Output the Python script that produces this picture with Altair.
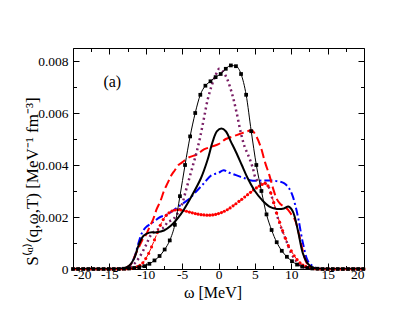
import altair as alt
import pandas as pd

# ---------------- data ----------------
# black thin line with square markers
SQ_X = [-20.0, -19.3, -18.6, -17.9, -17.2, -16.5, -15.8, -15.1, -14.4, -13.7,
        -13.0, -12.3, -11.6, -10.9, -10.2, -9.5, -8.8, -8.1, -7.4, -6.7,
        -6.0, -5.3, -4.6, -3.9, -3.2, -2.5, -1.8, -1.1, -0.4, 0.3,
        1.0, 1.7, 2.4, 3.1, 3.8, 4.5, 5.2, 5.9, 6.6, 7.3,
        8.0, 8.7, 9.4, 10.1, 10.8, 11.5, 12.2, 12.9, 13.6, 14.3,
        15.0, 15.7, 16.4, 17.1, 17.8, 18.5, 19.2, 19.9]
SQ_Y = [0, 0, 0, 0, 0, 0, 0, 0, 0, 0,
        0.00001, 0.00002, 0.00004, 0.00007, 0.00011, 0.0002, 0.00033, 0.0005, 0.00075, 0.0011,
        0.0017, 0.0028, 0.0040, 0.0051, 0.0060, 0.0067, 0.00705, 0.00722, 0.00738, 0.0075,
        0.0077, 0.00783, 0.0078, 0.0075, 0.0067, 0.0053, 0.0040, 0.0030, 0.0021, 0.0015,
        0.00103, 0.0007, 0.00047, 0.0003, 0.00017, 0.00009, 0.00004, 0.00002, 0.00001, 0,
        0, 0, 0, 0, 0, 0, 0, 0]

# red thin dashed line with dot markers
RD_X = [-20.0, -19.6, -19.2, -18.8, -18.4, -18.0, -17.6, -17.2, -16.8, -16.4,
        -16.0, -15.6, -15.2, -14.8, -14.4, -14.0, -13.6, -13.2, -12.8, -12.4,
        -12.0, -11.6, -11.2, -10.8, -10.4, -10.0, -9.6, -9.2, -8.8, -8.4,
        -8.0, -7.6, -7.2, -6.8, -6.4, -6.0, -5.6, -5.2, -4.8, -4.4,
        -4.0, -3.6, -3.2, -2.8, -2.4, -2.0, -1.6, -1.2, -0.8, -0.4,
        0.0, 0.4, 0.8, 1.2, 1.6, 2.0, 2.4, 2.8, 3.2, 3.6,
        4.0, 4.4, 4.8, 5.2, 5.6, 6.0, 6.4, 6.8, 7.2, 7.6,
        8.0, 8.4, 8.8, 9.2, 9.6, 10.0, 10.4, 10.8, 11.2, 11.6,
        12.0, 12.4, 12.8, 13.2, 13.6, 14.0, 14.4, 14.8, 15.2, 15.6,
        16.0, 16.4, 16.8, 17.2, 17.6, 18.0, 18.4, 18.8, 19.2, 19.6,
        20.0]
RD_Y = [0, 0, 0, 0, 0, 0, 0, 0, 0, 0,
        0, 0, 0, 0, 0, 0, 0, 0, 0, 0.00001,
        0.00002, 0.00004, 0.00008, 0.00014, 0.00024, 0.0004, 0.0006, 0.00085, 0.00112, 0.0014,
        0.00168, 0.0019, 0.00206, 0.00216, 0.00223, 0.00227, 0.00228, 0.00227, 0.00225, 0.00222,
        0.00219, 0.00216, 0.00213, 0.00211, 0.00209, 0.00208, 0.00207, 0.00207, 0.00208, 0.0021,
        0.00213, 0.00217, 0.00222, 0.00228, 0.00235, 0.00243, 0.00251, 0.0026, 0.00268, 0.00277,
        0.00286, 0.00295, 0.00304, 0.00312, 0.00319, 0.00325, 0.0033, 0.0032, 0.00292, 0.00255,
        0.00215, 0.0018, 0.00148, 0.00118, 0.0009, 0.0007, 0.00051, 0.00036, 0.00024, 0.00015,
        0.0001, 0.00006, 0.00003, 0.00001, 0, 0, 0, 0, 0, 0,
        0, 0, 0, 0, 0, 0, 0, 0, 0, 0,
        0]

# black thick solid line
BS_X = [-20, -14, -13, -12.3, -11.6, -11, -10.3, -9.5, -8.5, -7.5,
        -6.6, -5.2, -3.8, -2.4, -1.5, -0.8, -0.2, 0.4, 1.0, 1.7,
        2.4, 3.2, 4.0, 5.0, 6.0, 7.0, 8.0, 9.0, 9.6, 10.2,
        10.9, 11.6, 12.3, 13.0, 14.0, 20]
BS_Y = [0, 0, 0.00003, 0.00012, 0.0004, 0.0009, 0.00128, 0.0014, 0.00141, 0.00148,
        0.00165, 0.0021, 0.00275, 0.0035, 0.0042, 0.0049, 0.0053, 0.0054, 0.0053, 0.0049,
        0.0045, 0.0040, 0.0035, 0.0030, 0.00265, 0.0024, 0.00231, 0.00233, 0.0024, 0.00222,
        0.0015, 0.0006, 0.0002, 0.00005, 0, 0]

# red thick dashed line
RDA_X = [-20, -14, -13, -12.5, -12, -11.5, -11, -10.5, -10, -9.5,
         -9, -8.5, -8, -7.5, -7, -6.5, -6, -5.5, -5, -4,
         -3, -2, -1, 0, 1, 2, 3, 4, 4.6, 5.2,
         5.8, 6.4, 7.0, 7.5, 8.0, 8.5, 9.0, 9.5, 10.0, 10.5,
         11.0, 11.5, 12.0, 12.5, 13.0, 14, 20]
RDA_Y = [0, 0, 0.00002, 0.00008, 0.0002, 0.0005, 0.0008, 0.0011, 0.0013, 0.0016,
         0.0019, 0.0023, 0.0026, 0.003, 0.0033, 0.0036, 0.0038, 0.004, 0.0041, 0.0043,
         0.0044, 0.0046, 0.0047, 0.0048, 0.005, 0.0051, 0.0052, 0.0053, 0.00533, 0.0051,
         0.0047, 0.0041, 0.0036, 0.0031, 0.0027, 0.0025, 0.0024, 0.0023, 0.0021, 0.0019,
         0.0014, 0.0008, 0.0003, 0.0001, 0.00003, 0, 0]

# blue dash-dot line
BL_X = [-20, -14, -13, -12.5, -12, -11.5, -11, -10.5, -10, -9,
        -8, -7, -6, -5, -4, -3, -2, -1, 0, 0.7,
        1.5, 2.5, 3.5, 4.5, 6, 7.5, 9, 9.7, 10.2, 10.6,
        11, 11.6, 12.3, 13, 13.5, 14.5, 20]
BL_Y = [0, 0, 0.00002, 0.00006, 0.0002, 0.0005, 0.001, 0.0014, 0.0016, 0.0018,
        0.002, 0.0021, 0.0023, 0.0025, 0.0027, 0.003, 0.0033, 0.0036, 0.0037, 0.0038,
        0.0037, 0.0036, 0.0035, 0.0034, 0.0034, 0.0034, 0.0033, 0.0031, 0.0028, 0.0024,
        0.0019, 0.001, 0.0003, 0.0001, 0.00003, 0, 0]

# purple dotted line
PU_X = [-20, -14, -13, -12, -11, -10, -9.3, -8.5, -7.5, -7,
        -6.3, -5.7, -5, -4.5, -4, -3.5, -3, -2.5, -2, -1.5,
        -1, -0.4, 0.1, 0.6, 1.2, 1.9, 2.5, 3.1, 3.6, 4.2,
        4.7, 5.1, 5.7, 6.3, 6.8, 7.3, 8, 8.6, 9.3, 10,
        10.7, 11.5, 12.5, 13.5, 20]
PU_Y = [0, 0, 0.00002, 0.0001, 0.0004, 0.0009, 0.0013, 0.0015, 0.0016, 0.0018,
        0.0019, 0.0021, 0.0025, 0.003, 0.0035, 0.004, 0.0045, 0.0051, 0.0058, 0.0065,
        0.007, 0.00745, 0.0077, 0.0076, 0.0073, 0.0067, 0.006, 0.0052, 0.0047, 0.0043,
        0.0039, 0.0035, 0.0033, 0.0033, 0.0032, 0.0028, 0.0021, 0.0016, 0.0011, 0.0006,
        0.0003, 0.0001, 0.00002, 0, 0]

# axes
X_LABELS = [-20, -15, -10, -5, 0, 5, 10, 15, 20]
X_TICKS = [-20, -17.5, -15, -12.5, -10, -7.5, -5, -2.5, 0, 2.5, 5, 7.5, 10, 12.5, 15, 17.5, 20]
Y_LABELS = [0, 0.002, 0.004, 0.006, 0.008]
Y_TICKS = [0, 0.001, 0.002, 0.003, 0.004, 0.005, 0.006, 0.007, 0.008]
X_DOMAIN = [-20, 20]
Y_DOMAIN = [0, 0.0085]
X_TITLE = "ω [MeV]"
Y_TITLE = "S⁽ᵅ⁾(q,ω,T) [MeV⁻¹ fm⁻³]"
ANNOT_TEXT = ["(a)"]
ANNOT_X = [-14.6]
ANNOT_Y = [0.00718]

# ---------------- chart ----------------
W, H = 291, 221
FONT = "Liberation Serif"
xs = alt.Scale(domain=X_DOMAIN, nice=False, zero=False)
ys = alt.Scale(domain=Y_DOMAIN, nice=False, zero=False)


def df(xv, yv):
    return pd.DataFrame({"x": xv, "y": yv})


def enc(chart):
    return chart.encode(
        x=alt.X("x:Q", scale=xs, axis=None),
        y=alt.Y("y:Q", scale=ys, axis=None),
    )


def line(xv, yv, color, width, dash=None, interp="catmull-rom"):
    kw = dict(color=color, strokeWidth=width, interpolate=interp, clip=True)
    if dash is not None:
        kw["strokeDash"] = dash
    return enc(alt.Chart(df(xv, yv)).mark_line(**kw))


frame_df = pd.DataFrame({"x": X_DOMAIN, "y": Y_DOMAIN})
x_tick_size = {"condition": {"test": "datum.value % 5 === 0", "value": 6}, "value": 3.5}
y_tick_size = {"condition": {"test": "round(datum.value * 1000) % 2 === 0", "value": 6}, "value": 3.5}


def tick_axis(orient, values, size, offset):
    return alt.Axis(orient=orient, values=values, labels=False, domain=False, grid=False,
                    ticks=True, tickSize=size, tickColor="black", tickWidth=1,
                    offset=offset, title=None)


label_layer = alt.Chart(frame_df).mark_point(opacity=0).encode(
    x=alt.X("x:Q", scale=xs, axis=alt.Axis(
        orient="bottom", values=X_LABELS, labelExpr="'' + datum.value",
        ticks=False, tickSize=0, domain=False, grid=False, labelPadding=-2,
        labelFont=FONT, labelFontSize=13.5, labelColor="black",
        title=X_TITLE, titleFont=FONT, titleFontSize=16, titleFontWeight="normal",
        titleColor="black", titleX=139.5, titleY=15, titleBaseline="top")),
    y=alt.Y("y:Q", scale=ys, axis=alt.Axis(
        orient="left", values=Y_LABELS, labelExpr="'' + datum.value",
        ticks=False, tickSize=0, domain=False, grid=False, labelPadding=5,
        labelFont=FONT, labelFontSize=13.5, labelColor="black",
        title=Y_TITLE, titleFont=FONT, titleFontSize=17, titleFontWeight="normal",
        titleColor="black", titleX=-41, titleY=133, titleAngle=270,
        titleBaseline="middle", titleAlign="center")),
)

ticks_a = alt.Chart(frame_df).mark_point(opacity=0).encode(
    x=alt.X("x:Q", scale=xs, axis=tick_axis("top", X_TICKS, x_tick_size, -H)),
    y=alt.Y("y:Q", scale=ys, axis=tick_axis("right", Y_TICKS, y_tick_size, -W)),
)
ticks_b = alt.Chart(frame_df).mark_point(opacity=0).encode(
    x=alt.X("x:Q", scale=xs, axis=tick_axis("bottom", X_TICKS, x_tick_size, -H)),
    y=alt.Y("y:Q", scale=ys, axis=tick_axis("left", Y_TICKS, y_tick_size, -W)),
)

blue = line(BL_X, BL_Y, "#0000ff", 2, [8, 3, 2, 3])
red_dash = line(RDA_X, RDA_Y, "#ff0000", 2, [9, 4])
purple = line(PU_X, PU_Y, "#7a1f66", 2.5, [2, 3.2])
red_thin = line(RD_X, RD_Y, "#ff0000", 1, [4, 3], "monotone")
red_pts = enc(alt.Chart(df(RD_X, RD_Y)).mark_point(
    shape="circle", filled=True, size=10, color="#ff0000", opacity=1))
sq_line = line(SQ_X, SQ_Y, "#000000", 1, None, "monotone")
sq_pts = enc(alt.Chart(df(SQ_X, SQ_Y)).mark_point(
    shape="square", filled=True, size=14, color="#000000", opacity=1))
black = line(BS_X, BS_Y, "#000000", 2)

annot = alt.Chart(pd.DataFrame({"x": ANNOT_X, "y": ANNOT_Y, "t": ANNOT_TEXT})).mark_text(
    font=FONT, fontSize=16, color="black", align="center", baseline="middle"
).encode(
    x=alt.X("x:Q", scale=xs, axis=None),
    y=alt.Y("y:Q", scale=ys, axis=None),
    text="t:N",
)

chart = alt.layer(
    label_layer, ticks_a, ticks_b,
    blue, red_dash, purple, red_thin, red_pts, sq_line, sq_pts, black, annot,
).resolve_axis(x="independent", y="independent").properties(
    width=W, height=H,
    autosize=alt.AutoSizeParams(type="none"),
    padding={"left": 65, "top": 40, "right": 30, "bottom": 40},
    background="white",
).configure_view(stroke="black", strokeWidth=1)

chart.save("out.html", embed_options={"renderer": "svg", "actions": False})
